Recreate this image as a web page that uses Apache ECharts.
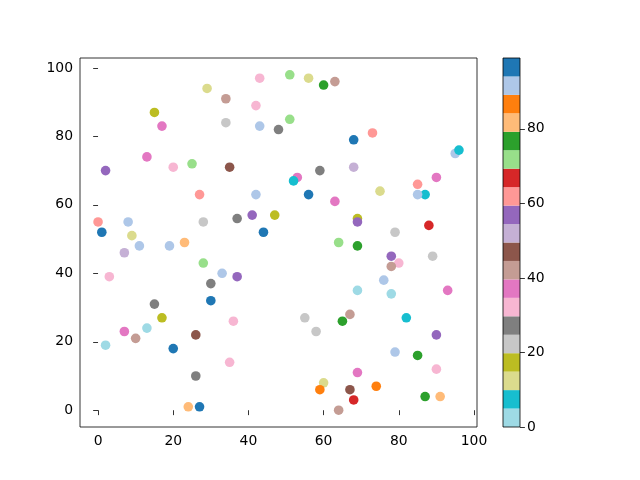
<!DOCTYPE html>
<html><head><meta charset="utf-8">
<script src="https://cdn.jsdelivr.net/npm/echarts@6/dist/echarts.min.js"></script>
<style>html,body{margin:0;padding:0;background:#fff}#c{width:640px;height:480px}</style>
</head><body><div id="c"></div>
<script>
const xs = [51,56,43,63,60,29,34,42,15,17,51,34,43,48,73,68,13,25,35,20,68,59,2,53,52,90,75,85,87,85,95,96,27,42,56,63,0,8,1,28,37,41,47,44,69,69,88,79,9,7,11,19,23,28,3,33,37,64,69,78,80,78,89,76,69,78,93,15,30,30,17,13,7,10,2,26,20,36,55,58,67,65,82,90,79,85,35,26,69,90,60,59,67,68,74,87,91,24,27,64];
const ys = [98,97,97,96,95,94,91,89,87,83,85,84,83,82,81,79,74,72,71,71,71,70,70,68,67,68,64,66,63,63,75,76,63,63,63,61,55,55,52,55,56,57,57,52,56,55,54,52,51,46,48,48,49,43,39,40,39,49,48,45,43,42,45,38,35,34,35,31,37,32,27,24,23,21,19,22,18,26,27,23,28,26,27,22,17,16,14,10,11,12,8,6,6,3,7,4,4,1,1,0];
const cs = [72,12,32,42,77,12,42,32,17,37,72,22,92,27,62,97,37,72,47,32,52,27,57,37,7,37,12,62,7,92,92,7,62,92,97,37,62,92,97,22,27,57,17,97,17,57,67,22,12,52,92,92,82,72,32,92,57,72,77,57,32,42,22,92,2,2,37,27,27,97,17,2,37,42,2,47,97,32,22,22,42,77,7,57,92,77,32,27,37,32,12,87,47,67,87,77,82,82,97,42];
const cmap = ['#9edae5','#17becf','#dbdb8d','#bcbd22','#c7c7c7','#7f7f7f','#f7b6d2','#e377c2','#c49c94','#8c564b','#c5b0d5','#9467bd','#ff9896','#d62728','#98df8a','#2ca02c','#ffbb78','#ff7f0e','#aec7e8','#1f77b4'];
const cMin = 0, cMax = 99;
const xTicks = [0,20,40,60,80,100];
const yTicks = [0,20,40,60,80,100];
const cTicks = [0,20,40,60,80];

function colorOf(v){
  let k = Math.floor((v - cMin) / (cMax - cMin) * cmap.length);
  k = Math.max(0, Math.min(cmap.length - 1, k));
  return cmap[k];
}
const pts = xs.map((x,i)=>[x, ys[i], cs[i]]);
const segH = (cMax - cMin) / cmap.length;

const font = {fontFamily:'DejaVu Sans', fontSize:13.9, color:'#000'};
const tick = {show:true, inside:false, length:4.9, lineStyle:{color:'#000', width:0.8}};

const series = [{
  type:'scatter', xAxisIndex:0, yAxisIndex:0,
  data: pts, symbolSize: 9.6,
  itemStyle:{color: p => colorOf(p.data[2]), opacity:1},
  emphasis:{disabled:true}, animation:false
}];
cmap.forEach((col,i)=>{
  series.push({type:'bar', xAxisIndex:1, yAxisIndex:1, stack:'cb', data:[segH],
    barWidth:'100%', itemStyle:{color:col}, animation:false, silent:true});
});

const chart = echarts.init(document.getElementById('c'), null, {renderer:'canvas'});
chart.setOption({
  animation:false,
  backgroundColor:'#fff',
  grid:[
    {left:80, top:58, width:397, height:369, show:true, borderColor:'#000', borderWidth:0.8, backgroundColor:'transparent'},
    {left:503, top:58, width:17, height:369, show:true, borderColor:'#000', borderWidth:0.8, backgroundColor:'transparent', z:5}
  ],
  xAxis:[
    {type:'value', gridIndex:0, min:-4.8, max:100.8, splitLine:{show:false},
     axisLine:{show:false}, axisTick:Object.assign({customValues:xTicks}, tick),
     axisLabel:Object.assign({customValues:xTicks, margin:7}, font)},
    {type:'category', gridIndex:1, data:['c'], show:false}
  ],
  yAxis:[
    {type:'value', gridIndex:0, min:-4.9, max:102.9, splitLine:{show:false},
     axisLine:{show:false}, axisTick:Object.assign({customValues:yTicks}, tick),
     axisLabel:Object.assign({customValues:yTicks, margin:7}, font)},
    {type:'value', gridIndex:1, position:'right', min:cMin, max:cMax, splitLine:{show:false},
     axisLine:{show:false}, axisTick:Object.assign({customValues:cTicks}, tick),
     axisLabel:Object.assign({customValues:cTicks, margin:7}, font)}
  ],
  series: series
});
</script></body></html>
